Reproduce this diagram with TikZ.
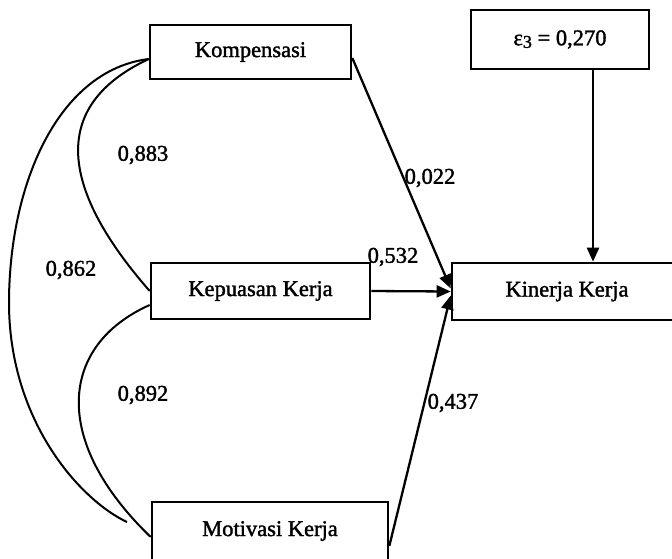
\documentclass[tikz,border=0pt]{standalone}
\usepackage{fontspec}
\setmainfont{Liberation Serif}[BoldFont=Liberation Serif,BoldFeatures={FakeBold=1.6}]
\usetikzlibrary{arrows.meta}
\begin{document}
\begin{tikzpicture}[x=1pt,y=-1pt,
  font=\fontsize{22.5}{26}\selectfont\bfseries,
  box/.style={draw,line width=2.6pt,inner sep=0pt,anchor=center},
  path/.style={line width=2.3pt,-{Triangle[length=14pt,width=12pt]}},
  corr/.style={line width=2pt},
  coef/.style={inner sep=0pt,anchor=center}]
\useasboundingbox (0,0) rectangle (672,558);
\clip (0,0) rectangle (672,558);

% variables
\node[box,minimum width=201pt,minimum height=54pt] (komp) at (250.5,52) {Kompensasi};
\node[box,minimum width=178pt,minimum height=59pt] (eps) at (560,39.5)
  {ε\raisebox{-0.25ex}{\fontsize{18}{18}\selectfont 3} = 0,270};
\node[box,minimum width=219pt,minimum height=56pt] (kep) at (260.5,291) {Kepuasan Kerja};
\node[box,minimum width=230pt,minimum height=57pt] (kin) at (567,291.5) {Kinerja Kerja};
\node[box,minimum width=236pt,minimum height=58pt] (mot) at (270,531) {Motivasi Kerja};

% direct paths into the outcome
\draw[path] ([yshift=-6pt]komp.east) -- ([yshift=3pt]kin.west);
\draw[path] (kep.east) -- (kin.west);
\draw[path] ([yshift=-15pt]mot.east) -- ([yshift=-4pt]kin.west);
\draw[path] (eps.south -| 593,0) -- (kin.north -| 593,0);

% correlations between the predictors
\coordinate (outerend) at (127,522);
\draw[corr] ([yshift=-7pt]komp.west) .. controls (40,110) and (70,200) .. (kep.west);
\draw[corr] ([yshift=-14pt]kep.west) .. controls (60,345) and (50,440) .. ([yshift=-6pt]mot.west);
\draw[corr] ([yshift=-7pt]komp.west) .. controls (60,70) and (10,180) .. (9,300)
  .. controls (8,420) and (80,500) .. (outerend);

% coefficients
\node[coef] (c1) at (143,155) {0,883};
\node[coef] (c2) at (71,270) {0,862};
\node[coef] (c3) at (143,395) {0,892};
\node[coef] (c4) at (430,178) {0,022};
\node[coef] (c5) at (393,257) {0,532};
\node[coef] (c6) at (453,403) {0,437};
\end{tikzpicture}
\end{document}
